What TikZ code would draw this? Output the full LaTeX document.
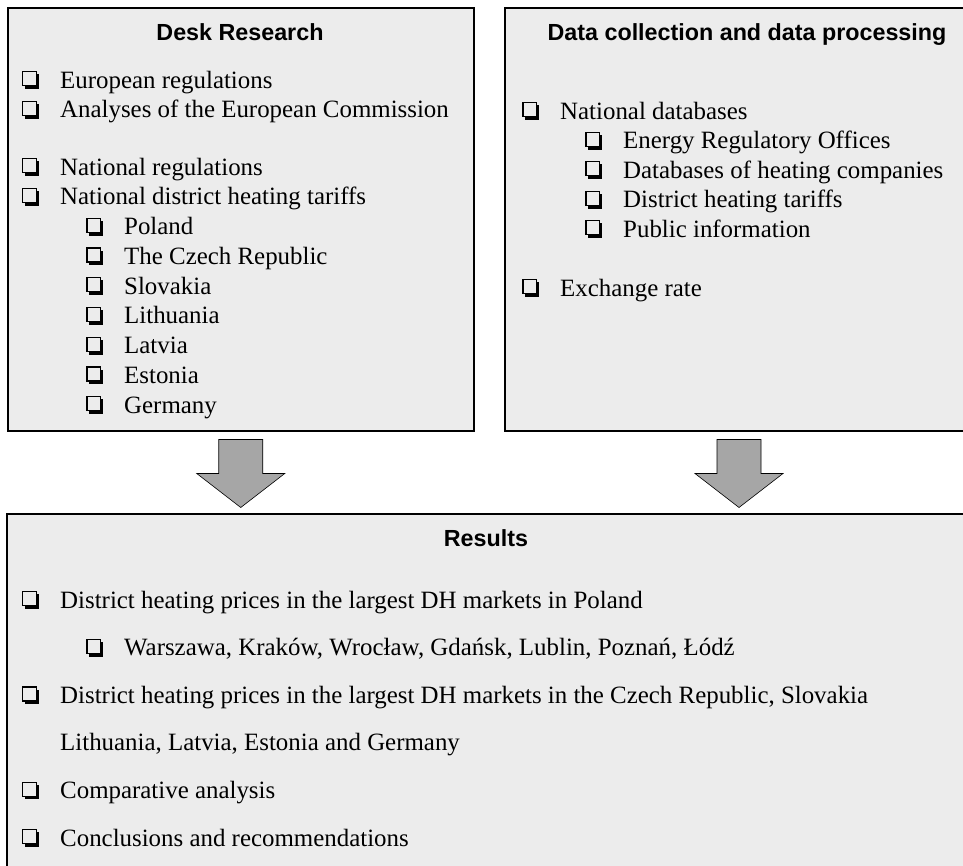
\documentclass[tikz,border=0pt]{standalone}
\usepackage{fontspec}
\setmainfont{Liberation Serif}
\newfontfamily\headfont{Liberation Sans}
\usetikzlibrary{calc}
\definecolor{panel}{RGB}{236, 236, 236}
\definecolor{arrowgray}{RGB}{166, 166, 166}

\newcommand{\chk}{\makebox[38pt][l]{\tikz[baseline=0pt]{%
  \fill[black] (2.6pt,-1pt) rectangle (17.2pt,13.6pt);
  \filldraw[fill=panel, draw=black, line width=1.3pt] (0.65pt,2.2pt) rectangle (14.6pt,16.2pt);}}}

\begin{document}
\begin{tikzpicture}[x=1pt, y=-1pt,
    box/.style={draw=black, fill=panel, line width=1.5pt, inner sep=0pt, anchor=north west},
    head/.style={font=\headfont\bfseries\fontsize{23.3}{28}\selectfont, inner sep=0pt, anchor=base},
    entry/.style={font=\fontsize{24.9}{30}\selectfont, inner sep=0pt, anchor=base west},
    blockarrow/.style={draw=black, fill=arrowgray, line width=0.6pt, line join=miter}]
  \useasboundingbox (0,0) rectangle (963,865);
  \clip (0,0) rectangle (963,865);

  \node[box, minimum width=466, minimum height=423] (desk) at (7,7) {};
  \node[box, minimum width=700, minimum height=423] (data) at (504,7) {};
  \node[box, minimum width=1200, minimum height=400] (res) at (6,513) {};
  \coordinate (deskout) at (desk.south);
  \coordinate (dataout) at ($(data.south west)+(235,0)$);

  % desk research
  \node[head] (deskhead) at (240,40) {Desk Research};
  \node[entry] (eureg)  at (22,88)     {\chk European regulations};
  \node[entry] (euana)  at (22,117.75) {\chk Analyses of the European Commission};
  \node[entry] (natreg) at (22,175)    {\chk National regulations};
  \node[entry] (nattar) at (22,204.75) {\chk National district heating tariffs};
  \node[entry] (pl) at (86,234.5)  {\chk Poland};
  \node[entry] (cz) at (86,264.25) {\chk The Czech Republic};
  \node[entry] (sk) at (86,294)    {\chk Slovakia};
  \node[entry] (lt) at (86,323.75) {\chk Lithuania};
  \node[entry] (lv) at (86,353.5)  {\chk Latvia};
  \node[entry] (ee) at (86,383.25) {\chk Estonia};
  \node[entry] (de) at (86,413)    {\chk Germany};

  % data collection
  \node[head] (datahead) at (747,40) {Data collection and data processing};
  \node[entry] (natdb) at (522,119)    {\chk National databases};
  \node[entry] (ero)   at (585,148.5)  {\chk Energy Regulatory Offices};
  \node[entry] (dbhc)  at (585,178)    {\chk Databases of heating companies};
  \node[entry] (dht)   at (585,207.5)  {\chk District heating tariffs};
  \node[entry] (pub)   at (585,237)    {\chk Public information};
  \node[entry] (exr)   at (522,296)    {\chk Exchange rate};

  % results
  \node[head] (reshead) at (486,546) {Results};
  \node[entry] (respl)   at (22,608)   {\chk District heating prices in the largest DH markets in Poland};
  \node[entry] (cities)  at (86,655.6) {\chk Warszawa, Kraków, Wrocław, Gdańsk, Lublin, Poznań, Łódź};
  \node[entry] (resoth)  at (22,703.2) {\chk District heating prices in the largest DH markets in the Czech Republic, Slovakia};
  \node[entry] (resoth2) at (60,750.8) {Lithuania, Latvia, Estonia and Germany};
  \node[entry] (comp)    at (22,798.4) {\chk Comparative analysis};
  \node[entry] (concl)   at (22,846)   {\chk Conclusions and recommendations};

  % arrows
  \draw[blockarrow] ($(deskout)+(-22,8)$) -- ++(44,0) -- ++(0,34) -- ++(22,0)
    -- ++(-44,34) -- ++(-44,-34) -- ++(22,0) -- cycle;
  \draw[blockarrow] ($(dataout)+(-22,8)$) -- ++(44,0) -- ++(0,34) -- ++(22,0)
    -- ++(-44,34) -- ++(-44,-34) -- ++(22,0) -- cycle;
\end{tikzpicture}
\end{document}
